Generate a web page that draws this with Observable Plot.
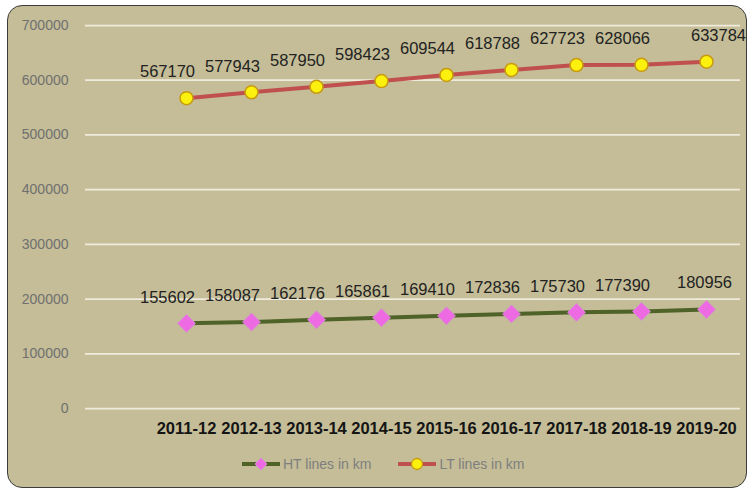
<!DOCTYPE html>
<html>
<head>
<meta charset="utf-8">
<script src="https://cdn.jsdelivr.net/npm/d3@7"></script>
<script src="https://cdn.jsdelivr.net/npm/@observablehq/plot@0.6"></script>
<style>
  html, body { margin: 0; padding: 0; background: #ffffff; width: 752px; height: 490px; overflow: hidden; }
  body { position: relative; font-family: "Liberation Sans", Arial, sans-serif; }
  #box { position: absolute; left: 7px; top: 5px; width: 740px; height: 483px; box-sizing: border-box;
         border: 1.5px solid #3c3c3c; border-radius: 15px; background: #c4bd97; }
  #chart { position: absolute; left: 0; top: 0; }
  #legend { position: absolute; left: 242px; top: 456px; display: flex; align-items: center;
            font-size: 14px; color: #7f7f7f; }
  .item { display: flex; align-items: center; }
  .item svg { display: block; }
</style>
</head>
<body>
<div id="box"></div>
<div id="chart"></div>
<div id="legend"></div>
<script>
const years = ["2011-12","2012-13","2013-14","2014-15","2015-16","2016-17","2017-18","2018-19","2019-20"];
const htValues = [155602,158087,162176,165861,169410,172836,175730,177390,180956];
const ltValues = [567170,577943,587950,598423,609544,618788,627723,628066,633784];
const yTicks = [0,100000,200000,300000,400000,500000,600000,700000];
const seriesNames = ["HT lines in km","LT lines in km"];

const ht = years.map((y, i) => ({year: y, value: htValues[i], idx: i}));
const lt = years.map((y, i) => ({year: y, value: ltValues[i], idx: i}));
const last = years.length - 1;

const htColor = "#4f6228", ltColor = "#c0504d";
const fontFam = "'Liberation Sans', Arial, sans-serif";

const plot = Plot.plot({
  width: 752,
  height: 440,
  marginLeft: 85,
  marginRight: 12,
  marginTop: 25,
  marginBottom: 32,
  style: {background: "transparent", fontFamily: fontFam, overflow: "visible"},
  x: {type: "point", domain: years, range: [183, 709], padding: 0},
  y: {domain: [0, 700000], ticks: yTicks},
  marks: [
    Plot.ruleY(yTicks, {stroke: "#eeebdd", strokeWidth: 1.75}),
    Plot.axisY(yTicks, {tickSize: 0, tickPadding: 17, tickFormat: d3.format("d"), fontSize: 14, fill: "#707070", label: null}),
    Plot.axisX({tickSize: 0, tickPadding: 14, fontSize: 16.5, fontWeight: "bold", fill: "#151515", label: null, style: {letterSpacing: "-0.3px"}}),
    Plot.line(ht, {x: "year", y: "value", stroke: htColor, strokeWidth: 4}),
    Plot.line(lt, {x: "year", y: "value", stroke: ltColor, strokeWidth: 4}),
    Plot.dot(ht, {x: "year", y: "value", symbol: "diamond2", r: 8, fill: "#ee6ae2", stroke: "#d98ad6", strokeWidth: 1}),
    Plot.dot(lt, {x: "year", y: "value", symbol: "circle", r: 6.5, fill: "#fbf00e", stroke: "#c79a10", strokeWidth: 1.5}),
    Plot.text(ht.filter(d => d.idx < last), {x: "year", y: "value", text: d => String(d.value), dx: -19, dy: -26, fontSize: 16.5, fill: "#222"}),
    Plot.text(ht.filter(d => d.idx === last), {x: "year", y: "value", text: d => String(d.value), dx: -2, dy: -27, fontSize: 16.5, fill: "#222"}),
    Plot.text(lt.filter(d => d.idx < last), {x: "year", y: "value", text: d => String(d.value), dx: -19, dy: -26, fontSize: 16.5, fill: "#222"}),
    Plot.text(lt.filter(d => d.idx === last), {x: "year", y: "value", text: d => String(d.value), dx: 12, dy: -26, fontSize: 16.5, fill: "#222"})
  ]
});
document.getElementById("chart").appendChild(plot);

// Legend
const legend = document.getElementById("legend");
function swatch(color, kind) {
  const ns = "http://www.w3.org/2000/svg";
  const s = document.createElementNS(ns, "svg");
  s.setAttribute("width", 40); s.setAttribute("height", 16);
  const l = document.createElementNS(ns, "line");
  l.setAttribute("x1", 0); l.setAttribute("x2", 38); l.setAttribute("y1", 8); l.setAttribute("y2", 8);
  l.setAttribute("stroke", color); l.setAttribute("stroke-width", 4);
  s.appendChild(l);
  if (kind === "diamond") {
    const p = document.createElementNS(ns, "path");
    p.setAttribute("d", "M19,2 L25,8 L19,14 L13,8 Z");
    p.setAttribute("fill", "#ee6ae2"); p.setAttribute("stroke", "#d98ad6");
    s.appendChild(p);
  } else {
    const c = document.createElementNS(ns, "circle");
    c.setAttribute("cx", 19); c.setAttribute("cy", 8); c.setAttribute("r", 5.5);
    c.setAttribute("fill", "#fbf00e"); c.setAttribute("stroke", "#c79a10"); c.setAttribute("stroke-width", 1.3);
    s.appendChild(c);
  }
  return s;
}
[[seriesNames[0], htColor, "diamond"], [seriesNames[1], ltColor, "circle"]].forEach(([name, color, kind], i) => {
  const it = document.createElement("div");
  it.className = "item";
  if (i === 1) it.style.marginLeft = "27px";
  it.appendChild(swatch(color, kind));
  const t = document.createElement("span");
  t.textContent = name;
  t.style.marginLeft = "1px";
  it.appendChild(t);
  legend.appendChild(it);
});
</script>
</body>
</html>
